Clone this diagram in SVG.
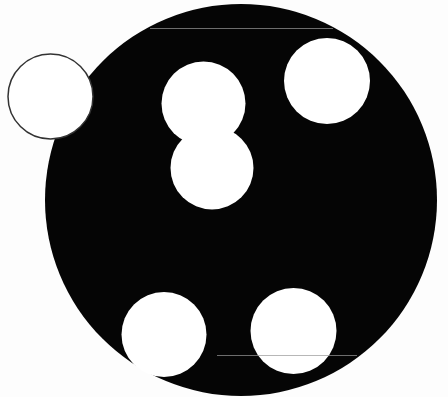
<svg xmlns="http://www.w3.org/2000/svg" width="448" height="397" viewBox="0 0 448 397">
<style>
.hole{fill:#ffffff;stroke:none}
.scan{stroke:#9a9a9a;stroke-width:1;opacity:0.7}
</style>
<rect width="448" height="397" fill="#fdfdfd"/>
<g id="disc">
<circle cx="241" cy="200" r="196" fill="#050505"/>
</g>
<g id="holes">
<circle id="hole-upper-mid" class="hole" cx="203.5" cy="103.5" r="42"/>
<circle id="hole-lower-mid" class="hole" cx="212" cy="168" r="41.5"/>
<circle id="hole-upper-right" class="hole" cx="327" cy="81" r="43"/>
<circle id="hole-bottom-left" class="hole" cx="164" cy="334.5" r="42.5"/>
<circle id="hole-bottom-right" class="hole" cx="293.5" cy="331" r="43"/>
</g>
<g id="outside-circle">
<circle cx="50.5" cy="96.5" r="42.5" fill="#ffffff" stroke="#333" stroke-width="1.5"/>
</g>
<g id="scan-lines">
<line class="scan" x1="150" y1="28.5" x2="333" y2="28.5"/>
<line class="scan" x1="217" y1="355.5" x2="357" y2="355.5"/>
</g>
</svg>
